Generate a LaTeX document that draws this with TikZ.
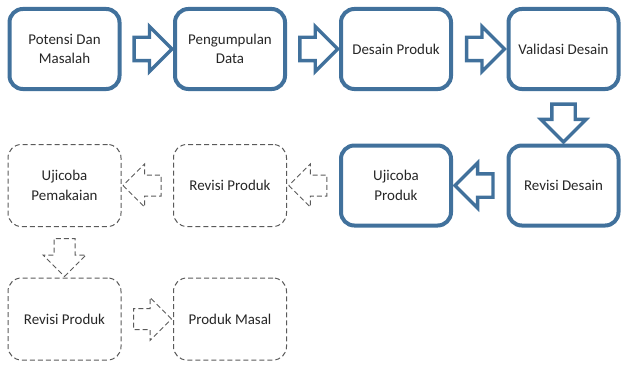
\documentclass[tikz,border=0pt]{standalone}
\usepackage{fontspec}
\setmainfont{Carlito}
\usetikzlibrary{shapes.arrows,calc}

\definecolor{stageblue}{RGB}{65,113,156}
\definecolor{planned}{RGB}{90,90,90}

\begin{document}
\begin{tikzpicture}[x=0.75pt,y=0.75pt,
  every node/.style={font=\fontsize{11.2}{14.5}\selectfont, text=black!85},
  done/.style={draw=stageblue, line width=3pt, rounded corners=10pt,
    minimum width=82.5pt, minimum height=60pt, align=center, inner sep=2pt},
  todo/.style={draw=planned, line width=0.75pt, dash pattern=on 3.75pt off 2.25pt,
    rounded corners=10pt, minimum width=84.75pt, minimum height=61.5pt,
    align=center, inner sep=2pt},
  flow/.style={single arrow, single arrow head extend=8.25pt,
    single arrow tip angle=90, inner xsep=0pt, inner ysep=7.5pt,
    minimum height=28.5pt},
  doneflow/.style={flow, draw=stageblue, line width=2.5pt},
  todoflow/.style={flow, draw=planned, line width=0.75pt,
    dash pattern=on 3.75pt off 2.25pt}]
  \useasboundingbox (0,0) rectangle (621,365);

  % stages already carried out
  \node[done] (potensi)   at (64.5,316)  {Potensi Dan\\Masalah};
  \node[done] (data)      at (230,316)   {Pengumpulan\\Data};
  \node[done] (desain)    at (396,316)   {Desain Produk};
  \node[done] (validasi)  at (563.5,316) {Validasi Desain};
  \node[done] (revdesain) at (563.5,179.5) {Revisi Desain};
  \node[done] (ujiproduk) at (396,179.5) {Ujicoba\\Produk};

  % stages still to come
  \node[todo] (revproduk) at (230,179.5) {Revisi Produk};
  \node[todo] (ujipakai)  at (64.5,179.5) {Ujicoba\\Pemakaian};
  \node[todo] (revakhir)  at (64.5,46)   {Revisi Produk};
  \node[todo] (masal)     at (230,46)    {Produk Masal};

  % block arrows between the stages
  \node[doneflow] (a1) at ($(potensi.east)!0.5!(data.west)$) {};
  \node[doneflow] (a2) at ($(data.east)!0.5!(desain.west)$) {};
  \node[doneflow] (a3) at ($(desain.east)!0.5!(validasi.west)$) {};
  \node[doneflow, rotate=-90] (a4) at ($(validasi.south)!0.5!(revdesain.north)$) {};
  \node[doneflow, rotate=180] (a5) at ($(revdesain.west)!0.5!(ujiproduk.east)$) {};
  \node[todoflow, rotate=180] (a6) at ($(ujiproduk.west)!0.5!(revproduk.east)$) {};
  \node[todoflow, rotate=180] (a7) at ($(revproduk.west)!0.5!(ujipakai.east)$) {};
  \node[todoflow, rotate=-90] (a8) at ($(ujipakai.south)!0.5!(revakhir.north)$) {};
  \node[todoflow] (a9) at ($(revakhir.east)!0.5!(masal.west)$) {};
\end{tikzpicture}
\end{document}
